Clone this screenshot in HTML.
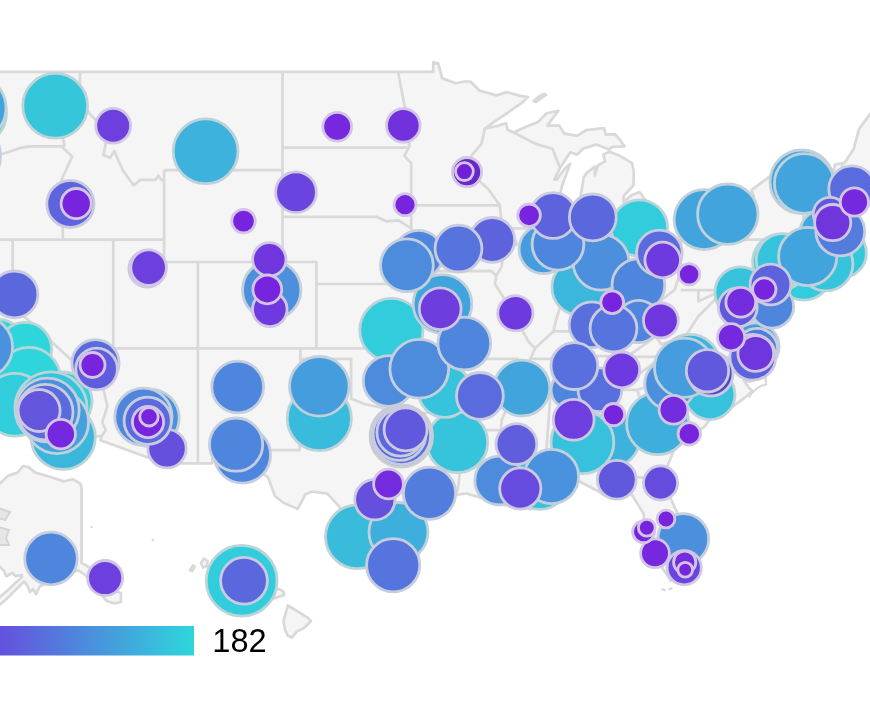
<!DOCTYPE html>
<html><head><meta charset="utf-8"><title>Map</title>
<style>html,body{margin:0;padding:0;background:#fff;overflow:hidden}svg{display:block}</style></head>
<body>
<svg width="870" height="726" viewBox="0 0 870 726">
<defs><linearGradient id="lg" x1="0" x2="1" y1="0" y2="0"><stop offset="0" stop-color="#7724de"/><stop offset="1" stop-color="#2ed6dc"/></linearGradient></defs>
<g fill="#f5f5f5" stroke="#d9d9d9" stroke-width="2.7" stroke-linejoin="round">
<path d="M-89.0 71.8 L433.2 71.8 L433.2 62.1 L438.3 63.6 L442.2 78.4 L456.0 83.2 L464.5 81.5 L470.4 81.5 L479.7 90.8 L496.7 95.4 L506.8 92.1 L520.4 95.9 L528.0 97.1 L522.1 102.6 L506.8 113.3 L493.3 122.4 L484.8 128.8 L498.4 125.6 L506.0 123.2 L507.7 129.8 L513.6 132.5 L527.1 126.3 L538.1 121.9 L546.6 113.3 L558.4 110.8 L551.7 119.5 L547.4 125.6 L559.3 125.6 L564.4 133.7 L577.1 135.9 L586.4 130.0 L604.1 128.1 L605.8 134.6 L615.1 134.2 L620.2 140.2 L624.5 146.3 L611.8 147.0 L609.2 149.4 L596.5 144.4 L583.0 148.7 L577.1 154.7 L570.3 152.3 L560.1 167.8 L554.2 179.7 L556.8 179.7 L564.4 169.0 L570.3 163.6 L566.1 174.9 L561.8 186.7 L559.0 199.5 L555.9 216.8 L557.6 228.3 L561.0 243.0 L564.4 247.9 L572.8 245.9 L579.6 237.3 L584.3 223.7 L579.6 201.9 L583.8 177.3 L586.9 172.6 L594.8 166.6 L594.8 175.4 L597.9 165.5 L605.0 161.4 L603.3 154.7 L609.2 151.6 L618.5 155.2 L632.1 163.1 L633.8 172.6 L633.4 185.5 L623.6 196.0 L623.6 201.9 L632.1 194.9 L639.7 192.1 L647.3 203.0 L648.7 216.8 L647.3 226.0 L640.5 231.7 L636.3 238.4 L631.2 245.7 L643.9 250.8 L660.8 250.8 L681.2 239.6 L693.7 233.5 L708.2 220.3 L705.7 210.9 L730.2 211.1 L748.9 205.3 L753.9 196.0 L751.4 190.2 L760.7 183.2 L778.5 170.2 L833.5 170.2 L835.2 164.3 L844.5 163.1 L853.8 148.7 L858.9 129.3 L872.4 110.8 L926.6 112.1 L926.6 182.0 L889.3 186.7 L875.8 193.7 L855.5 201.9 L848.7 214.5 L845.3 220.3 L843.6 228.3 L842.0 232.8 L847.0 235.1 L849.6 244.1 L858.9 245.2 L859.7 247.5 L848.7 249.7 L840.3 250.8 L835.2 251.9 L827.6 255.3 L809.8 256.4 L797.1 263.1 L820.0 258.6 L826.7 260.9 L799.6 271.3 L791.2 271.5 L791.2 275.2 L789.5 289.5 L784.4 298.2 L775.9 307.3 L765.8 296.0 L764.9 292.7 L767.5 299.3 L772.6 310.1 L773.4 317.6 L770.0 327.2 L759.0 345.2 L758.2 336.7 L762.4 328.2 L753.9 319.7 L756.5 305.7 L755.6 294.9 L748.9 301.4 L749.7 320.8 L752.2 329.3 L752.2 348.3 L757.3 350.4 L758.2 358.8 L757.3 366.1 L745.5 369.2 L757.3 370.2 L760.7 377.4 L750.6 381.6 L743.8 380.5 L748.9 387.7 L752.2 390.8 L747.2 395.9 L725.2 412.1 L714.2 412.9 L704.9 426.2 L691.3 436.2 L674.4 449.1 L665.9 469.8 L665.1 475.6 L667.6 491.2 L679.5 518.1 L688.8 548.4 L687.1 569.9 L682.8 580.1 L671.0 581.0 L659.2 563.3 L652.4 548.4 L643.1 531.4 L643.9 514.2 L632.1 495.0 L621.9 487.3 L605.0 496.0 L598.2 491.2 L579.6 481.5 L562.7 483.4 L554.2 475.6 L552.5 484.4 L537.3 481.5 L527.1 485.3 L527.1 489.2 L533.9 488.3 L530.5 498.9 L535.6 506.6 L530.5 509.4 L520.4 504.7 L510.2 506.6 L498.4 502.7 L489.9 498.9 L481.4 497.9 L466.2 493.5 L455.2 495.0 L440.8 500.8 L432.3 508.5 L413.7 520.0 L398.5 535.2 L395.1 548.4 L399.3 565.8 L395.1 568.0 L381.6 563.9 L366.3 557.7 L359.6 537.0 L346.0 521.9 L339.3 506.6 L327.4 493.7 L312.2 491.5 L305.4 494.3 L297.8 508.9 L283.4 502.7 L274.9 496.0 L268.2 477.6 L249.5 461.9 L240.6 454.4 L212.3 454.4 L212.3 463.3 L163.7 463.3 L100.4 440.2 L101.9 435.8 L61.3 439.6 L58.3 430.2 L48.1 418.2 L39.7 415.2 L38.0 409.5 L26.1 407.1 L3.3 401.0 L-89.0 369.2Z"/>
<path d="M-5.0 483.6 L0.0 483.6 L7.7 475.9 L17.6 472.6 L23.1 466.0 L28.6 467.1 L35.2 472.6 L50.7 477.0 L63.9 481.4 L72.7 479.2 L80.4 483.6 L81.5 488.0 L81.5 562.9 L88.0 566.5 L100.0 575.0 L112.0 590.0 L121.0 593.0 L121.0 602.0 L114.0 603.5 L106.0 600.5 L95.0 585.0 L85.0 575.0 L78.0 570.0 L70.0 574.0 L40.0 586.0 L36.0 594.0 L33.0 589.0 L30.0 592.0 L27.0 585.0 L24.0 581.5 L14.0 591.5 L6.0 599.5 L0.0 604.5 L-5.0 607.0 L-5.0 599.0 L0.0 597.0 L8.0 590.0 L17.0 581.5 L22.0 577.0 L21.7 575.1 L15.5 576.2 L12.4 573.0 L6.2 576.2 L4.1 571.0 L0.0 566.9 L-5.0 566.0Z"/>
<path d="M287.8 605.5 L292.0 608.0 L299.0 612.4 L307.6 617.6 L311.0 621.0 L304.0 628.0 L297.0 631.4 L292.0 637.4 L287.8 635.7 L285.0 629.7 L283.4 621.0 L286.0 612.4Z"/>
<path d="M274.0 590.0 L279.0 589.0 L283.4 591.7 L284.3 595.0 L278.3 597.0 L274.0 598.6Z"/>
<path d="M201.0 563.0 L204.0 558.5 L207.5 561.0 L207.0 566.0 L203.0 567.5Z"/>
<path d="M190.0 570.0 L193.0 565.5 L194.7 566.5 L192.0 571.0Z"/>
<path d="M262.0 585.0 L270.0 584.5 L270.0 587.0 L262.0 587.5Z"/>
<path d="M271.0 589.5 L274.0 589.5 L273.0 592.0 L270.5 591.5Z"/>
<path d="M533.5 101.0 L539.0 96.5 L544.5 93.8 L546.0 95.0 L541.0 98.5 L536.0 102.0Z"/>
</g>
<g fill="#e6e6e6" stroke="#d4d4d4" stroke-width="2">
<path d="M-2.0 508.0 L10.0 512.0 L5.0 520.0 L-2.0 518.0Z"/>
<path d="M-2.0 527.0 L9.0 530.0 L6.0 538.0 L9.0 545.0 L-2.0 545.0Z"/>
</g>
<path d="M-89.0 140.2 L-45.0 141.4 L-38.2 142.7 L-34.8 149.9 L-34.0 154.7 L-26.3 157.1 L-12.8 153.5 L-7.7 155.9 L4.1 153.5 L19.4 148.2 L29.5 146.3 L64.7 146.3 M62.7 71.8 L62.7 136.1 L64.7 146.3 M-89.0 239.6 L164.1 239.6 M164.1 170.2 L164.1 262.0 L282.5 262.0 M164.1 170.2 L282.5 170.2 M12.6 239.6 L12.6 305.7 L103.5 389.8 M113.3 239.6 L113.3 367.1 L101.4 367.1 L103.5 389.8 L107.4 406.1 L102.3 422.2 L105.7 430.2 L101.9 435.8 M113.3 348.3 L442.2 348.3 M197.9 262.0 L197.9 463.3 M282.5 71.8 L282.5 262.0 M282.5 147.7 L409.3 147.7 M282.5 216.8 L376.5 216.8 L386.6 221.4 L398.5 220.3 L411.2 228.3 M282.5 262.0 L316.4 262.0 L316.4 284.0 L430.7 284.0 M316.4 284.0 L316.4 348.3 M300.3 348.3 L300.3 358.8 L299.5 450.1 L239.0 450.1 L240.6 454.4 M300.3 358.8 L351.1 358.8 L351.1 398.7 L364.6 404.0 L383.3 408.1 L398.5 415.2 L412.0 414.2 L430.7 412.5 L444.5 417.4 L452.0 419.2 L452.0 469.8 L460.3 469.8 L457.7 489.2 L455.2 495.0 M442.2 358.8 L445.0 381.6 L444.5 417.4 M442.2 303.6 L442.2 358.8 L517.8 358.8 L514.1 369.2 L525.4 369.2 M411.2 228.3 L417.1 246.3 L420.5 257.5 L421.3 268.6 L430.7 284.0 L435.7 292.7 L442.2 303.6 M422.7 271.3 L491.1 270.8 L496.3 275.7 M411.2 205.3 L499.7 205.3 M398.0 71.8 L405.3 109.6 L409.3 146.3 L404.4 155.9 L411.2 163.1 L411.2 228.3 M484.8 128.8 L481.4 143.9 L471.3 155.9 L473.8 176.1 L488.2 189.0 L499.7 205.3 L501.7 223.7 L509.5 228.0 L517.0 244.1 L503.4 253.1 L501.7 266.4 L496.3 275.7 L495.0 284.0 L508.5 305.7 L517.3 310.1 L517.0 320.8 L528.8 342.0 L535.1 348.3 L530.5 358.8 L525.4 369.2 L518.7 387.7 L510.2 400.0 L501.7 420.2 L500.9 430.2 L503.4 444.2 L493.3 469.8 L524.9 469.8 L527.1 485.3 M509.5 228.3 L557.6 228.3 M513.6 132.5 L535.6 143.9 L552.5 148.7 L557.6 161.9 L560.1 167.8 M562.2 245.0 L562.2 299.3 L555.9 320.8 L553.4 331.4 M535.1 348.3 L553.4 331.4 L569.4 331.4 L588.1 327.2 L598.2 312.2 L608.0 303.6 L616.8 310.1 L638.8 312.2 L645.6 318.6 L652.4 314.4 L660.0 301.4 L674.9 289.5 L680.8 269.9 L680.8 239.6 M608.0 303.6 L608.0 246.3 M567.8 245.0 L608.0 245.0 L631.2 245.7 M693.7 239.6 L768.3 239.6 L779.3 254.2 L772.6 264.2 L770.9 270.8 L778.5 279.6 L767.5 288.4 L764.9 292.7 M680.8 290.1 L760.9 290.1 L760.9 317.6 L773.4 317.6 M680.8 290.1 L698.4 290.1 L698.4 301.4 L716.7 292.7 L728.2 298.8 L739.9 307.9 L735.3 318.6 L752.2 329.3 M645.6 318.6 L655.8 336.7 L661.2 344.1 L684.5 337.8 L698.1 316.5 L717.5 297.1 L728.2 298.8 M528.8 358.8 L553.0 358.8 L553.0 355.0 L627.3 356.7 L759.9 357.7 M627.3 356.7 L655.8 336.7 M661.2 356.9 L645.6 369.2 L616.5 389.8 M515.3 389.8 L637.1 389.8 L650.7 385.7 L671.8 388.7 L673.9 387.7 L676.4 393.4 L695.2 393.9 L714.2 412.9 M452.0 430.2 L500.9 430.2 M550.8 389.8 L546.3 452.1 L547.4 484.4 M594.8 389.8 L601.9 432.8 L605.0 469.8 L607.4 475.6 L652.4 478.2 L654.9 482.2 L664.2 475.2 M561.0 469.8 L605.0 469.8 M561.0 469.8 L563.5 483.4 M637.1 389.8 L640.5 400.0 L657.5 422.2 L664.2 430.2 L674.4 449.1 M802.2 170.2 L803.0 203.0 L803.9 222.6 L799.6 238.4 L799.6 255.3 L797.1 263.1 M803.9 222.6 L836.9 223.7 L845.3 220.3 M799.6 238.4 L828.4 239.1 L835.2 239.1 L835.2 251.9 M828.4 239.1 L827.6 255.3 M817.4 223.0 L824.2 193.7 L833.5 170.2 M842.0 163.1 L842.8 207.6 L847.0 215.2 M62.0 146.8 L72.2 156.4 L67.0 168.0 L62.0 178.5 L62.8 229.4 L62.8 239.6 M80.0 72.0 L80.0 98.0 L89.5 113.7 L95.0 119.0 L106.0 142.6 L103.3 155.0 L110.0 157.8 L114.3 151.0 L122.6 170.0 L133.6 185.3 L140.5 179.8 L155.6 179.8 L158.4 175.7 L162.5 181.2" fill="none" stroke="#d9d9d9" stroke-width="2.7" stroke-linejoin="round"/>
<path d="M759.9 358.8 L764.9 373.3 L766.3 384.6 L761.6 385.7 L757.3 388.1 L752.2 392.8 L748.9 397.5 M661.5 589 L665.5 590.5 M668.5 589.5 L672.5 588 M91 526 L92 528 M152.2 539 L153.2 541" fill="none" stroke="#d8d8d8" stroke-width="2" stroke-linejoin="round"/>
<g stroke-width="2.8">
<circle cx="-27.0" cy="113.0" r="33.4" fill="#2ed6dc" stroke="#b8d6d7"/>
<circle cx="-2.0" cy="346.0" r="26.6" fill="#2ed6dc" stroke="#b8d6d7"/>
<circle cx="25.0" cy="349.0" r="26.6" fill="#2ed6dc" stroke="#b8d6d7"/>
<circle cx="29.0" cy="379.0" r="31.6" fill="#2ed6dc" stroke="#b8d6d7"/>
<circle cx="63.0" cy="401.0" r="29.0" fill="#30d1dc" stroke="#b9d5d7"/>
<circle cx="391.4" cy="330.0" r="31.6" fill="#32cddc" stroke="#b9d5d8"/>
<circle cx="639.4" cy="228.0" r="28.2" fill="#32cddc" stroke="#b9d5d8"/>
<circle cx="804.0" cy="272.5" r="27.6" fill="#32cddc" stroke="#b9d5d8"/>
<circle cx="612.3" cy="439.7" r="26.9" fill="#3db2dc" stroke="#bdd2da"/>
<circle cx="15.0" cy="404.8" r="31.4" fill="#32cddc" stroke="#b9d5d8"/>
<circle cx="241.7" cy="580.7" r="35.4" fill="#32cddc" stroke="#b9d5d8"/>
<circle cx="780.5" cy="262.0" r="27.9" fill="#33cadc" stroke="#bad5d8"/>
<circle cx="841.5" cy="253.0" r="24.9" fill="#34c8dc" stroke="#bad5d8"/>
<circle cx="55.2" cy="105.8" r="32.4" fill="#35c6dc" stroke="#bad4d8"/>
<circle cx="457.3" cy="442.2" r="30.4" fill="#35c4dc" stroke="#bad4d9"/>
<circle cx="782.7" cy="260.0" r="26.4" fill="#35c4dc" stroke="#bad4d9"/>
<circle cx="826.0" cy="264.0" r="26.9" fill="#35c4dc" stroke="#bad4d9"/>
<circle cx="740.3" cy="292.2" r="25.4" fill="#35c4dc" stroke="#bad4d9"/>
<circle cx="540.0" cy="482.0" r="27.4" fill="#35c4dc" stroke="#bad4d9"/>
<circle cx="51.0" cy="408.0" r="36.1" fill="#35c4dc" stroke="#bad4d9"/>
<circle cx="710.0" cy="394.7" r="24.9" fill="#37c1dc" stroke="#bbd4d9"/>
<circle cx="582.4" cy="442.2" r="31.4" fill="#37c1dc" stroke="#bbd4d9"/>
<circle cx="444.8" cy="391.0" r="26.4" fill="#35c4dc" stroke="#bad4d9"/>
<circle cx="319.3" cy="418.5" r="32.1" fill="#39bbdc" stroke="#bcd3d9"/>
<circle cx="357.4" cy="536.7" r="31.9" fill="#39bbdc" stroke="#bcd3d9"/>
<circle cx="579.8" cy="287.2" r="27.9" fill="#3bb6dc" stroke="#bdd3da"/>
<circle cx="690.0" cy="364.0" r="29.6" fill="#3bb6dc" stroke="#bdd3da"/>
<circle cx="63.2" cy="437.2" r="32.1" fill="#3bb6dc" stroke="#bdd3da"/>
<circle cx="205.6" cy="151.3" r="32.4" fill="#3db2dc" stroke="#bdd2da"/>
<circle cx="657.7" cy="423.5" r="31.1" fill="#3eafdc" stroke="#bed2da"/>
<circle cx="398.5" cy="532.0" r="29.5" fill="#3eafdc" stroke="#bed2da"/>
<circle cx="670.2" cy="384.0" r="25.4" fill="#4b8fdd" stroke="#c3cfdd"/>
<circle cx="822.0" cy="232.0" r="21.9" fill="#41a8dd" stroke="#bfd1db"/>
<circle cx="801.8" cy="181.8" r="31.8" fill="#42a4dd" stroke="#c0d1db"/>
<circle cx="-27.0" cy="108.0" r="33.0" fill="#42a4dd" stroke="#c0d1db"/>
<circle cx="442.5" cy="304.0" r="29.3" fill="#42a4dd" stroke="#c0d1db"/>
<circle cx="704.1" cy="219.6" r="30.0" fill="#42a4dd" stroke="#c0d1db"/>
<circle cx="804.2" cy="183.5" r="29.8" fill="#42a4dd" stroke="#c0d1db"/>
<circle cx="807.7" cy="256.5" r="29.1" fill="#42a4dd" stroke="#c0d1db"/>
<circle cx="521.9" cy="388.0" r="27.9" fill="#42a4dd" stroke="#c0d1db"/>
<circle cx="727.8" cy="214.2" r="30.2" fill="#42a4dd" stroke="#c0d1db"/>
<circle cx="755.5" cy="346.5" r="23.6" fill="#44a1dd" stroke="#c0d1dc"/>
<circle cx="57.0" cy="422.0" r="31.6" fill="#44a1dd" stroke="#c0d1dc"/>
<circle cx="543.5" cy="249.2" r="24.4" fill="#459ddd" stroke="#c1d0dc"/>
<circle cx="684.1" cy="367.7" r="29.6" fill="#459ddd" stroke="#c1d0dc"/>
<circle cx="319.3" cy="386.3" r="29.8" fill="#459ddd" stroke="#c1d0dc"/>
<circle cx="551.5" cy="476.5" r="27.1" fill="#4a92dd" stroke="#c2cfdd"/>
<circle cx="-18.0" cy="347.0" r="30.6" fill="#4a92dd" stroke="#c2cfdd"/>
<circle cx="271.7" cy="290.0" r="29.2" fill="#4b8fdd" stroke="#c3cfdd"/>
<circle cx="601.0" cy="262.3" r="27.9" fill="#4b8fdd" stroke="#c3cfdd"/>
<circle cx="683.3" cy="539.0" r="25.4" fill="#4b8fdd" stroke="#c3cfdd"/>
<circle cx="47.3" cy="410.0" r="31.9" fill="#4b8fdd" stroke="#c3cfdd"/>
<circle cx="388.7" cy="381.0" r="25.4" fill="#4d8bdd" stroke="#c3cfdd"/>
<circle cx="499.2" cy="480.6" r="24.4" fill="#4d8bdd" stroke="#c3cfdd"/>
<circle cx="419.3" cy="368.8" r="29.4" fill="#4d8bdd" stroke="#c3cfdd"/>
<circle cx="150.6" cy="418.0" r="28.6" fill="#4a92dd" stroke="#c2cfdd"/>
<circle cx="242.4" cy="455.0" r="28.1" fill="#4f86dd" stroke="#c4cede"/>
<circle cx="-37.5" cy="156.0" r="37.9" fill="#4f86dd" stroke="#c4cede"/>
<circle cx="418.6" cy="254.8" r="24.4" fill="#4f86dd" stroke="#c4cede"/>
<circle cx="464.3" cy="343.5" r="26.4" fill="#4f86dd" stroke="#c4cede"/>
<circle cx="558.0" cy="244.2" r="25.9" fill="#4f86dd" stroke="#c4cede"/>
<circle cx="638.4" cy="285.2" r="26.4" fill="#4f86dd" stroke="#c4cede"/>
<circle cx="638.5" cy="321.5" r="21.1" fill="#4f86dd" stroke="#c4cede"/>
<circle cx="772.0" cy="306.5" r="21.6" fill="#4f86dd" stroke="#c4cede"/>
<circle cx="570.0" cy="390.0" r="18.9" fill="#4f86dd" stroke="#c4cede"/>
<circle cx="237.7" cy="387.0" r="25.9" fill="#4f86dd" stroke="#c4cede"/>
<circle cx="51.0" cy="558.5" r="26.3" fill="#4f86dd" stroke="#c4cede"/>
<circle cx="406.9" cy="265.3" r="26.4" fill="#4d8bdd" stroke="#c3cfdd"/>
<circle cx="236.1" cy="444.6" r="26.6" fill="#4f86dd" stroke="#c4cede"/>
<circle cx="143.4" cy="416.8" r="28.6" fill="#4f86dd" stroke="#c4cede"/>
<circle cx="840.3" cy="231.5" r="24.4" fill="#527ddd" stroke="#c6cddf"/>
<circle cx="757.0" cy="349.0" r="20.6" fill="#527ddd" stroke="#c6cddf"/>
<circle cx="599.9" cy="389.8" r="21.9" fill="#586fdd" stroke="#c8cce0"/>
<circle cx="429.5" cy="493.3" r="26.1" fill="#527ddd" stroke="#c6cddf"/>
<circle cx="393.2" cy="565.2" r="26.6" fill="#5674dd" stroke="#c7ccdf"/>
<circle cx="167.0" cy="448.6" r="19.2" fill="#6550de" stroke="#cdc9e2"/>
<circle cx="401.3" cy="436.0" r="31.2" fill="#586fdd" stroke="#cdcdcd"/>
<circle cx="592.0" cy="324.8" r="22.9" fill="#586fdd" stroke="#c8cce0"/>
<circle cx="574.4" cy="366.1" r="23.4" fill="#586fdd" stroke="#c8cce0"/>
<circle cx="401.5" cy="435.5" r="29.1" fill="#586fdd" stroke="#c8cce0"/>
<circle cx="613.5" cy="328.5" r="23.4" fill="#5674dd" stroke="#c7ccdf"/>
<circle cx="659.4" cy="253.0" r="22.8" fill="#5a6bdd" stroke="#c8cce0"/>
<circle cx="852.0" cy="189.0" r="23.2" fill="#5a6bdd" stroke="#c8cce0"/>
<circle cx="479.9" cy="395.9" r="23.4" fill="#5a6bdd" stroke="#c8cce0"/>
<circle cx="399.5" cy="434.0" r="26.4" fill="#5a6bdd" stroke="#c8cce0"/>
<circle cx="45.2" cy="412.1" r="27.8" fill="#5a6bdd" stroke="#c8cce0"/>
<circle cx="95.5" cy="363.3" r="23.6" fill="#5a6bdd" stroke="#c8cce0"/>
<circle cx="147.7" cy="420.8" r="23.6" fill="#5a6bdd" stroke="#c8cce0"/>
<circle cx="14.5" cy="294.4" r="23.4" fill="#5b68dd" stroke="#c9cbe0"/>
<circle cx="400.5" cy="432.5" r="23.6" fill="#5b68dd" stroke="#c9cbe0"/>
<circle cx="244.0" cy="580.7" r="23.4" fill="#5b68dd" stroke="#c9cbe0"/>
<circle cx="70.4" cy="203.9" r="23.6" fill="#5d64dd" stroke="#cacbe1"/>
<circle cx="492.2" cy="239.9" r="22.4" fill="#5d62dd" stroke="#cacbe1"/>
<circle cx="553.1" cy="215.5" r="22.9" fill="#5d62dd" stroke="#cacbe1"/>
<circle cx="770.5" cy="284.5" r="20.4" fill="#5d62dd" stroke="#cacbe1"/>
<circle cx="752.8" cy="357.2" r="22.9" fill="#5d62dd" stroke="#cacbe1"/>
<circle cx="458.5" cy="248.6" r="23.4" fill="#5674dd" stroke="#c7ccdf"/>
<circle cx="592.8" cy="217.4" r="23.4" fill="#5b68dd" stroke="#c9cbe0"/>
<circle cx="516.4" cy="444.1" r="20.4" fill="#5f5fdd" stroke="#cacae1"/>
<circle cx="96.6" cy="369.0" r="20.8" fill="#605ddd" stroke="#cbcae1"/>
<circle cx="710.8" cy="373.8" r="22.2" fill="#5548c4" stroke="#cbcae2"/>
<circle cx="830.0" cy="214.0" r="16.7" fill="#6159dd" stroke="#cbcae2"/>
<circle cx="737.8" cy="307.3" r="19.4" fill="#6159dd" stroke="#cbcae2"/>
<circle cx="707.5" cy="370.8" r="21.2" fill="#6159dd" stroke="#cbcae2"/>
<circle cx="616.8" cy="479.8" r="19.4" fill="#6159dd" stroke="#cbcae2"/>
<circle cx="405.6" cy="429.4" r="21.5" fill="#6159dd" stroke="#cbcae2"/>
<circle cx="39.1" cy="410.5" r="21.0" fill="#6356dd" stroke="#cccae2"/>
<circle cx="374.9" cy="499.6" r="20.2" fill="#6550de" stroke="#cdc9e2"/>
<circle cx="660.5" cy="483.0" r="17.1" fill="#674bde" stroke="#cec9e3"/>
<circle cx="520.3" cy="488.5" r="20.6" fill="#674bde" stroke="#cec9e3"/>
<circle cx="296.0" cy="192.2" r="20.4" fill="#6a44de" stroke="#cfc8e3"/>
<circle cx="684.2" cy="567.7" r="17.1" fill="#6a44de" stroke="#cfc8e3"/>
<circle cx="147.3" cy="268.8" r="18.4" fill="#6c3fde" stroke="#cfc7e4"/>
<circle cx="113.2" cy="125.7" r="17.4" fill="#6c3fde" stroke="#cfc7e4"/>
<circle cx="148.6" cy="267.6" r="17.8" fill="#6c3fde" stroke="#cfc7e4"/>
<circle cx="573.7" cy="419.8" r="20.4" fill="#6c3fde" stroke="#cfc7e4"/>
<circle cx="105.1" cy="578.0" r="17.5" fill="#6c3fde" stroke="#cfc7e4"/>
<circle cx="440.2" cy="308.7" r="20.9" fill="#6d3dde" stroke="#d0c7e4"/>
<circle cx="269.8" cy="309.3" r="17.3" fill="#6e39de" stroke="#d0c7e4"/>
<circle cx="515.4" cy="313.3" r="17.6" fill="#6e39de" stroke="#d0c7e4"/>
<circle cx="662.7" cy="260.0" r="17.8" fill="#6e39de" stroke="#d0c7e4"/>
<circle cx="621.8" cy="369.9" r="17.9" fill="#6e39de" stroke="#d0c7e4"/>
<circle cx="269.3" cy="259.4" r="16.7" fill="#7036de" stroke="#d1c6e5"/>
<circle cx="660.9" cy="320.4" r="17.4" fill="#7036de" stroke="#d1c6e5"/>
<circle cx="832.7" cy="222.6" r="18.1" fill="#7036de" stroke="#d1c6e5"/>
<circle cx="755.8" cy="353.5" r="17.9" fill="#7036de" stroke="#d1c6e5"/>
<circle cx="684.7" cy="562.2" r="11.1" fill="#732dde" stroke="#d2c6e5"/>
<circle cx="403.3" cy="125.4" r="16.8" fill="#7132de" stroke="#d1c6e5"/>
<circle cx="740.8" cy="302.3" r="14.9" fill="#732dde" stroke="#d2c6e5"/>
<circle cx="673.5" cy="409.8" r="14.4" fill="#732dde" stroke="#d2c6e5"/>
<circle cx="388.5" cy="484.0" r="14.9" fill="#742bde" stroke="#d3c5e6"/>
<circle cx="731.1" cy="337.2" r="13.6" fill="#7529de" stroke="#d3c5e6"/>
<circle cx="60.8" cy="434.1" r="14.7" fill="#7529de" stroke="#d3c5e6"/>
<circle cx="337.2" cy="126.8" r="14.4" fill="#7628de" stroke="#d3c5e6"/>
<circle cx="467.0" cy="172.1" r="14.6" fill="#6628c8" stroke="#d4c5e6"/>
<circle cx="854.4" cy="202.0" r="14.1" fill="#7628de" stroke="#d3c5e6"/>
<circle cx="655.0" cy="553.3" r="14.4" fill="#7628de" stroke="#d3c5e6"/>
<circle cx="643.5" cy="531.8" r="10.9" fill="#7724de" stroke="#d4c5e6"/>
<circle cx="76.2" cy="203.6" r="15.1" fill="#7724de" stroke="#d4c5e6"/>
<circle cx="243.5" cy="221.1" r="11.8" fill="#7724de" stroke="#d4c5e6"/>
<circle cx="267.3" cy="289.4" r="14.4" fill="#7724de" stroke="#d4c5e6"/>
<circle cx="405.0" cy="204.7" r="11.0" fill="#7724de" stroke="#d4c5e6"/>
<circle cx="529.1" cy="215.3" r="11.3" fill="#7724de" stroke="#d4c5e6"/>
<circle cx="689.1" cy="274.3" r="10.7" fill="#7724de" stroke="#d4c5e6"/>
<circle cx="612.2" cy="302.2" r="11.4" fill="#7724de" stroke="#d4c5e6"/>
<circle cx="764.3" cy="289.5" r="11.7" fill="#7724de" stroke="#d4c5e6"/>
<circle cx="613.6" cy="414.6" r="11.1" fill="#7724de" stroke="#d4c5e6"/>
<circle cx="689.3" cy="433.9" r="11.2" fill="#7724de" stroke="#d4c5e6"/>
<circle cx="666.0" cy="519.0" r="8.9" fill="#7724de" stroke="#d4c5e6"/>
<circle cx="92.5" cy="365.0" r="12.5" fill="#7724de" stroke="#d4c5e6"/>
<circle cx="148.0" cy="422.0" r="15.6" fill="#7724de" stroke="#d4c5e6"/>
<circle cx="464.4" cy="171.6" r="8.9" fill="#7020d6" stroke="#d4c5e6"/>
<circle cx="646.8" cy="527.8" r="8.4" fill="#7724de" stroke="#d4c5e6"/>
<circle cx="685.2" cy="569.7" r="7.4" fill="#7724de" stroke="#d4c5e6"/>
<circle cx="149.0" cy="416.8" r="9.2" fill="#7724de" stroke="#d4c5e6"/>
</g>
<rect x="-65" y="626" width="259" height="29.5" fill="url(#lg)"/>
<text x="212.3" y="651.6" font-family="Liberation Sans, Arial, sans-serif" font-size="32.6" fill="#000">182</text>
</svg>
</body></html>
